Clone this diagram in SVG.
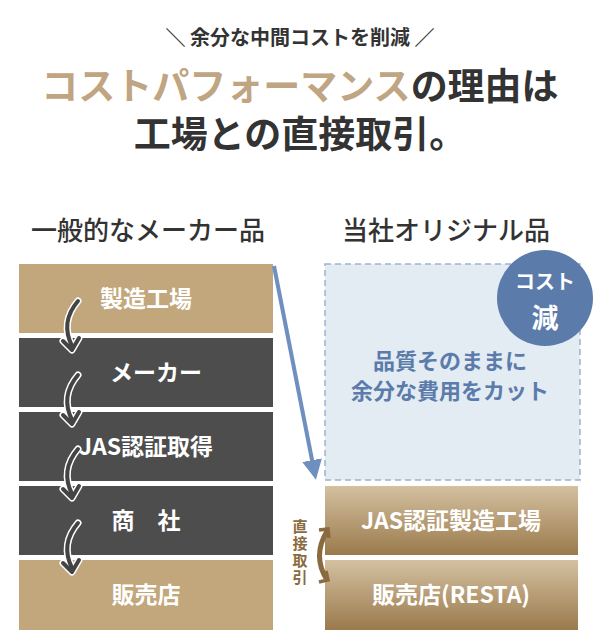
<svg xmlns="http://www.w3.org/2000/svg" width="600" height="644" viewBox="0 0 600 644">
<style>
text{font-family:"Noto Sans CJK JP","Noto Sans",sans-serif;font-weight:bold}
.w{fill:#fff;font-size:23px;text-anchor:middle}
.h{fill:#333;font-size:26px;text-anchor:middle;font-weight:500}
.tan{fill:#c2a77d}.dk{fill:#4d4d4d}
.ca{fill:none;stroke:#444;stroke-width:4;stroke-linecap:round;stroke-linejoin:round}
.co{fill:none;stroke:#fff;stroke-width:7;stroke-linecap:round;stroke-linejoin:round}
.v{font-size:15px;fill:#8a6b40;writing-mode:vertical-rl;letter-spacing:2px}
</style>
<defs>
<linearGradient id="g" x1="0" y1="0" x2="0" y2="1"><stop offset="0" stop-color="#d4c0a0"/><stop offset="1" stop-color="#9a7a4c"/></linearGradient>
<marker id="ab" viewBox="0 0 10 10" refX="5" refY="5" markerWidth="5" markerHeight="5" orient="auto"><path d="M0,0L10,5L0,10z" fill="#6f8fbf"/></marker>
</defs>
<rect width="600" height="644" fill="#fff"/>
<g id="title">
<text x="300" y="45" text-anchor="middle" font-size="20" fill="#333" font-weight="500">＼ 余分な中間コストを削減 ／</text>
<text x="300" y="100" text-anchor="middle" font-size="37" fill="#333"><tspan fill="#bfa582">コストパフォーマンス</tspan>の理由は</text>
<text x="300" y="148" text-anchor="middle" font-size="37" fill="#333">工場との直接取引。</text>
</g>
<text class="h" x="148" y="240">一般的なメーカー品</text>
<text class="h" x="446" y="240">当社オリジナル品</text>
<g id="left">
<g id="n1"><rect class="tan" x="19" y="264" width="254" height="69"/><text class="w" x="146" y="307">製造工場</text></g>
<g id="n2"><rect class="dk" x="19" y="338" width="254" height="69"/><text class="w" x="156" y="381">メーカー</text></g>
<g id="n3"><rect class="dk" x="19" y="412" width="254" height="69"/><text class="w" x="146" y="455">JAS認証取得</text></g>
<g id="n4"><rect class="dk" x="19" y="486" width="254" height="69"/><text class="w" x="146" y="529">商　社</text></g>
<g id="n5"><rect class="tan" x="19" y="560" width="254" height="70"/><text class="w" x="146" y="603">販売店</text></g>
</g>
<g id="right">
<g id="cut"><rect x="325" y="264" width="255" height="216" fill="#e3ebf3" stroke="#9fb3cc" stroke-width="1.5" stroke-dasharray="6,4"/>
<text x="450" y="369" text-anchor="middle" font-size="22" fill="#5b7bab" font-weight="500">品質そのままに</text>
<text x="450" y="399" text-anchor="middle" font-size="22" fill="#5b7bab" font-weight="500">余分な費用をカット</text></g>
<g id="badge"><circle cx="545" cy="298" r="48" fill="#5b7bab"/>
<text x="545" y="289" text-anchor="middle" font-size="20" fill="#fff">コスト</text>
<text x="545" y="328" text-anchor="middle" font-size="27" fill="#fff">減</text></g>
<g id="r1"><rect x="325" y="486" width="253" height="69" fill="url(#g)"/><text class="w" x="451" y="529">JAS認証製造工場</text></g>
<g id="r2"><rect x="325" y="560" width="253" height="70" fill="url(#g)"/><text class="w" x="451" y="603">販売店(RESTA)</text></g>
<text class="v" x="300" y="519">直接取引</text>
</g>
<g id="connectors">
<line x1="274" y1="266" x2="314" y2="470" stroke="#6f8fbf" stroke-width="4" marker-end="url(#ab)"/>
<path d="M327,531 Q312,556 327,580" fill="none" stroke="#8a6b40" stroke-width="5"/>
<path d="M319,530 L328,529 L329,538 M319,582 L328,580 L326,571" fill="none" stroke="#8a6b40" stroke-width="3.5"/>
<g>
<path class="co" d="M78,301 Q60,322 72,346 M63,341 L72,350 L79,338"/><path class="ca" d="M78,301 Q60,322 72,346 M63,341 L72,350 L79,338"/>
<path class="co" d="M78,375 Q60,396 72,420 M63,415 L72,424 L79,412"/><path class="ca" d="M78,375 Q60,396 72,420 M63,415 L72,424 L79,412"/>
<path class="co" d="M78,449 Q60,470 72,494 M63,489 L72,498 L79,486"/><path class="ca" d="M78,449 Q60,470 72,494 M63,489 L72,498 L79,486"/>
<path class="co" d="M78,523 Q60,544 72,568 M63,563 L72,572 L79,560"/><path class="ca" d="M78,523 Q60,544 72,568 M63,563 L72,572 L79,560"/>
</g>
</g>
</svg>
